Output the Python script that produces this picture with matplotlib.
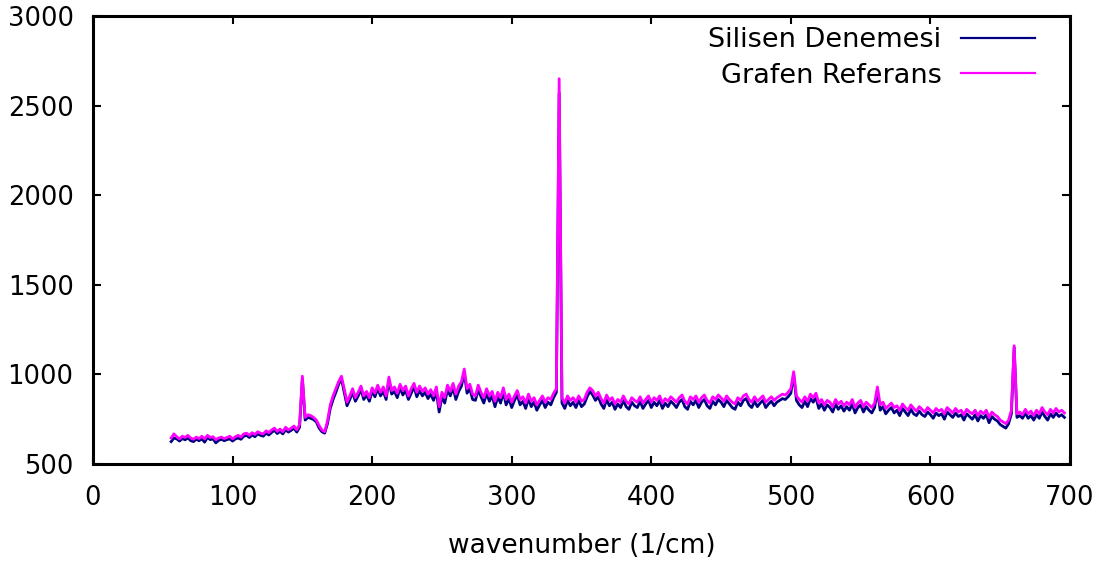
import numpy as np
import matplotlib
matplotlib.use("Agg")
import matplotlib.pyplot as plt

# wavenumber grid (1/cm)
wavenumber = np.arange(56, 697, 2)

grafen_referans = [
    645, 668, 652, 640, 655, 648, 660, 645, 638, 650,
    642, 655, 640, 660, 648, 652, 636, 645, 650, 642,
    648, 655, 640, 652, 660, 650, 668, 672, 660, 675,
    665, 680, 672, 668, 685, 675, 690, 700, 682, 695,
    680, 705, 690, 700, 712, 690, 720, 990, 760, 775,
    770, 760, 745, 715, 690, 680, 740, 830, 880, 920,
    960, 990, 920, 845, 880, 920, 870, 900, 935, 880,
    905, 870, 925, 895, 940, 900, 930, 880, 985, 910,
    930, 895, 945, 910, 935, 880, 920, 950, 900, 935,
    905, 925, 890, 915, 880, 930, 820, 900, 870, 940,
    905, 950, 890, 935, 960, 1030, 920, 945, 890, 880,
    940, 900, 870, 920, 880, 905, 850, 900, 870, 925,
    860, 890, 845, 880, 910, 860, 875, 840, 890, 850,
    870, 830, 855, 880, 845, 870, 860, 895, 920, 2650,
    870, 840, 880, 855, 870, 845, 880, 850, 860, 900,
    925, 910, 880, 900, 865, 840, 885, 855, 870, 835,
    860, 845, 880, 850, 835, 870, 855, 845, 875, 840,
    860, 880, 845, 870, 855, 880, 840, 865, 850, 875,
    860, 845, 870, 885, 850, 835, 875, 860, 880, 845,
    870, 885, 855, 840, 875, 860, 885, 870, 850, 880,
    860, 845, 835, 870, 855, 880, 890, 860, 845, 875,
    850, 865, 880, 845, 860, 875, 855, 870, 880, 890,
    885, 900, 920, 1015, 880, 860, 845, 875, 850, 890,
    870, 895, 840, 860, 830, 855, 845, 820, 860, 835,
    850, 825, 845, 830, 860, 815, 840, 855, 820, 845,
    830, 815, 840, 930, 830, 845, 810, 825, 840, 815,
    825, 800, 835, 815, 800, 830, 810, 795, 820, 805,
    790, 815, 800, 785, 810, 795, 805, 780, 815, 800,
    785, 810, 790, 800, 775, 805, 790, 780, 800, 770,
    795, 780, 800, 760, 790, 775, 765, 745, 735, 725,
    745, 800, 1160, 780, 790, 775, 805, 780, 795, 770,
    800, 780, 815, 790, 775, 805, 785, 810, 790, 800, 785,
]

silisen_denemesi = [
    625, 645, 640, 628, 642, 635, 646, 630, 625, 638,
    630, 640, 622, 648, 636, 640, 618, 632, 638, 630,
    636, 640, 628, 640, 645, 638, 655, 660, 648, 662,
    652, 668, 660, 655, 672, 662, 676, 688, 670, 682,
    668, 690, 678, 688, 700, 678, 705, 975, 745, 760,
    755, 748, 735, 700, 680, 672, 725, 810, 860, 900,
    945, 975, 900, 825, 860, 900, 850, 880, 915, 860,
    885, 850, 905, 875, 920, 880, 905, 860, 965, 890,
    905, 870, 925, 885, 910, 860, 895, 930, 875, 910,
    880, 900, 865, 890, 855, 905, 790, 875, 840, 915,
    880, 925, 860, 905, 935, 1010, 895, 920, 860, 855,
    915, 875, 840, 895, 850, 880, 820, 875, 840, 900,
    830, 865, 815, 855, 885, 830, 850, 810, 865, 820,
    845, 800, 830, 855, 815, 845, 830, 870, 900, 2570,
    840, 810, 855, 825, 845, 815, 855, 820, 835, 875,
    905, 885, 855, 875, 835, 810, 860, 825, 845, 805,
    835, 815, 855, 820, 805, 845, 825, 815, 850, 810,
    835, 855, 815, 845, 825, 855, 810, 840, 820, 850,
    835, 815, 845, 860, 820, 805, 850, 830, 855, 815,
    845, 860, 825, 810, 850, 830, 860, 845, 820, 855,
    835, 815, 805, 845, 825, 855, 865, 830, 815, 850,
    820, 840, 855, 815, 835, 850, 825, 845, 855, 865,
    860, 875, 895, 1000, 855, 830, 815, 850, 820, 865,
    845, 870, 810, 835, 800, 830, 815, 790, 835, 805,
    825, 795, 820, 800, 835, 785, 815, 830, 790, 820,
    800, 785, 815, 910, 800, 820, 780, 800, 815, 785,
    800, 770, 810, 790, 770, 805, 780, 770, 795, 775,
    765, 790, 775, 755, 785, 770, 780, 750, 790, 775,
    760, 785, 765, 775, 745, 780, 765, 750, 775, 740,
    770, 755, 775, 730, 765, 750, 740, 720, 710, 700,
    725, 780, 1150, 760, 770, 755, 785, 755, 770, 745,
    775, 755, 790, 765, 745, 780, 760, 785, 765, 775, 760,
]

series_labels = ["Silisen Denemesi", "Grafen Referans"]
x_ticks = [0, 100, 200, 300, 400, 500, 600, 700]
y_ticks = [500, 1000, 1500, 2000, 2500, 3000]
x_label = "wavenumber (1/cm)"

plt.rcParams['font.family'] = ['DejaVu Sans']

fig = plt.figure(figsize=(11.07, 5.71), dpi=100)
ax = fig.add_axes([93/1107, 107/571, 977/1107, 448/571])

ax.plot(wavenumber, silisen_denemesi, color="#000080", lw=2.0, label=series_labels[0])
ax.plot(wavenumber, grafen_referans, color="#ff00ff", lw=2.0, label=series_labels[1])

ax.set_xlim(0, 700)
ax.set_ylim(500, 3000)
ax.set_xticks(x_ticks)
ax.set_yticks(y_ticks)
ax.tick_params(direction="in", length=6, width=1.5, top=True, right=True,
               labelsize=18.5, colors="black")
ax.tick_params(axis="x", pad=15)
ax.tick_params(axis="y", pad=14)
for s in ax.spines.values():
    s.set_linewidth(2.2)
ax.set_xlabel(x_label, fontsize=19, labelpad=16)

leg = ax.legend(loc="upper right", bbox_to_anchor=(0.9642, 0.975), frameon=False,
                markerfirst=False, fontsize=19.5, handlelength=2.75,
                handletextpad=0.7, labelspacing=0.35, borderaxespad=0, borderpad=0)
for line in leg.get_lines():
    line.set_linewidth(1.6)

fig.savefig("out.png", dpi=100)
